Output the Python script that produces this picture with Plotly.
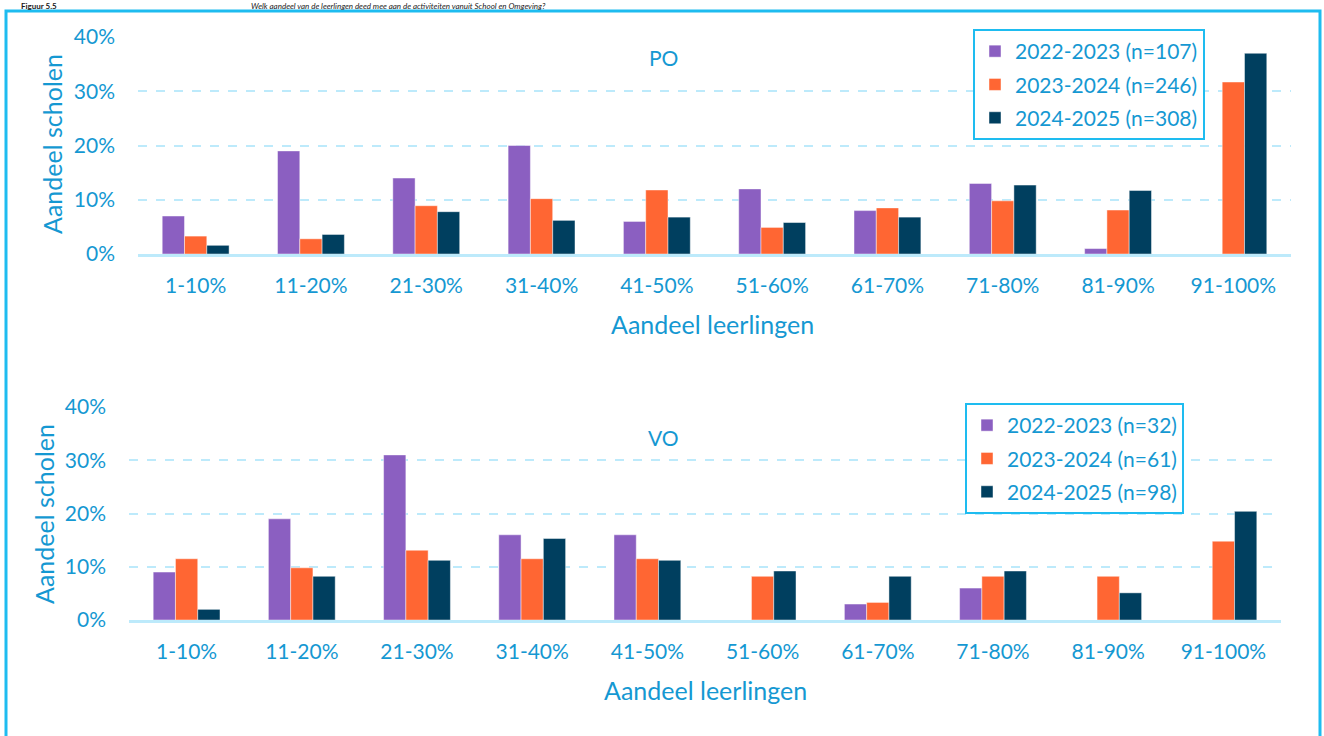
import plotly.graph_objects as go

categories = ["1-10%", "11-20%", "21-30%", "31-40%", "41-50%",
              "51-60%", "61-70%", "71-80%", "81-90%", "91-100%"]

po_names = ["2022-2023 (n=107)", "2023-2024 (n=246)", "2024-2025 (n=308)"]
po_2022 = [7, 19, 14, 20, 6, 12, 8, 13, 1, 0]
po_2023 = [3.3, 2.8, 8.9, 10.2, 11.8, 4.9, 8.5, 9.8, 8.1, 31.7]
po_2024 = [1.6, 3.6, 7.8, 6.2, 6.8, 5.8, 6.8, 12.7, 11.7, 37.0]

vo_names = ["2022-2023 (n=32)", "2023-2024 (n=61)", "2024-2025 (n=98)"]
vo_2022 = [9, 19, 31, 16, 16, 0, 3, 6, 0, 0]
vo_2023 = [11.5, 9.8, 13.1, 11.5, 11.5, 8.2, 3.3, 8.2, 8.2, 14.8]
vo_2024 = [2.0, 8.2, 11.2, 15.3, 11.2, 9.2, 8.2, 9.2, 5.1, 20.4]

y_ticks = [0, 10, 20, 30, 40]
y_ticklabels = ["0%", "10%", "20%", "30%", "40%"]

colors = ["#8B5FC1", "#FF6633", "#003F5F"]
TXT = "#1598D2"
GRID = "#BDEAFB"
FONT = "Lato"
W, H = 1324, 736

def px(x):
    return x / W

def py(y):
    return 1 - y / H

fig = go.Figure()

for i, (nm, vals) in enumerate(zip(po_names, [po_2022, po_2023, po_2024])):
    fig.add_trace(go.Bar(x=categories, y=vals, name=nm, xaxis="x", yaxis="y",
                         marker=dict(color=colors[i], line=dict(color="rgba(255,255,255,0.45)", width=1)),
                         legend="legend", legendgroup="p%d" % i, hoverinfo="x+y+name"))
for i, (nm, vals) in enumerate(zip(vo_names, [vo_2022, vo_2023, vo_2024])):
    fig.add_trace(go.Bar(x=categories, y=vals, name=nm, xaxis="x2", yaxis="y2",
                         marker=dict(color=colors[i], line=dict(color="rgba(255,255,255,0.45)", width=1)),
                         legend="legend2", legendgroup="v%d" % i, hoverinfo="x+y+name"))

xcommon = dict(type="category", showgrid=False, zeroline=False, showline=True,
               linecolor=GRID, linewidth=3, ticks="", ticklabelstandoff=11,
               tickfont=dict(family=FONT, size=21, color=TXT))
ycommon = dict(range=[0, 40], tickvals=y_ticks, ticktext=y_ticklabels,
               showgrid=True, gridcolor=GRID, griddash="dash", gridwidth=2,
               zeroline=False, showline=False, ticks="", ticklabelstandoff=22,
               tickfont=dict(family=FONT, size=21, color=TXT))

legcommon = dict(font=dict(family=FONT, size=21, color=TXT), bgcolor="white",
                 bordercolor="#1EBCF0", borderwidth=2, xanchor="left", yanchor="top",
                 tracegroupgap=3, itemclick=False, itemdoubleclick=False)

fig.update_layout(
    width=W, height=H,
    margin=dict(l=0, r=0, t=0, b=0, autoexpand=False),
    paper_bgcolor="white", plot_bgcolor="white",
    barmode="group", bargap=0.42, bargroupgap=0,
    showlegend=True,
    xaxis=dict(domain=[px(138), px(1291)], anchor="y", **xcommon),
    yaxis=dict(domain=[py(254), py(37)], anchor="x", **ycommon),
    xaxis2=dict(domain=[px(129), px(1281)], anchor="y2", **xcommon),
    yaxis2=dict(domain=[py(620), py(407)], anchor="x2", **ycommon),
    legend=dict(x=px(973), y=py(29), **legcommon),
    legend2=dict(x=px(965), y=py(403), **legcommon),
)

ann = [
    dict(text="Aandeel scholen", x=px(52), y=py(144), textangle=-90, size=25),
    dict(text="Aandeel scholen", x=px(44), y=py(514), textangle=-90, size=25),
    dict(text="Aandeel leerlingen", x=px(712), y=py(324), textangle=0, size=25),
    dict(text="Aandeel leerlingen", x=px(705), y=py(690), textangle=0, size=25),
    dict(text="PO", x=px(663), y=py(57), textangle=0, size=21),
    dict(text="VO", x=px(663), y=py(437), textangle=0, size=21),
]
for a in ann:
    fig.add_annotation(text=a["text"], x=a["x"], y=a["y"], xref="paper", yref="paper",
                       xanchor="center", yanchor="middle", textangle=a["textangle"],
                       showarrow=False, font=dict(family=FONT, size=a["size"], color=TXT))

# figure caption in the thin strip at the very top
fig.add_annotation(text="<b>Figuur 5.5</b>", x=px(20), y=1, xref="paper", yref="paper",
                   xanchor="left", yanchor="top", showarrow=False, borderpad=0,
                   font=dict(family=FONT, size=8, color="#1a1a1a"))
fig.add_annotation(text="<i>Welk aandeel van de leerlingen deed mee aan de activiteiten vanuit School en Omgeving?</i>",
                   x=px(250), y=1, xref="paper", yref="paper",
                   xanchor="left", yanchor="top", showarrow=False, borderpad=0,
                   font=dict(family=FONT, size=8, color="#1a1a1a"))

# outer frame
fig.add_shape(type="rect", xref="paper", yref="paper",
              x0=px(6), x1=px(1320), y0=-0.05, y1=py(11),
              line=dict(color="#1EBCF0", width=3), fillcolor="rgba(0,0,0,0)", layer="below")

fig.write_html("out.html", config={"displayModeBar": False},
               post_script="document.body.style.margin='0';document.body.style.overflow='hidden';")
